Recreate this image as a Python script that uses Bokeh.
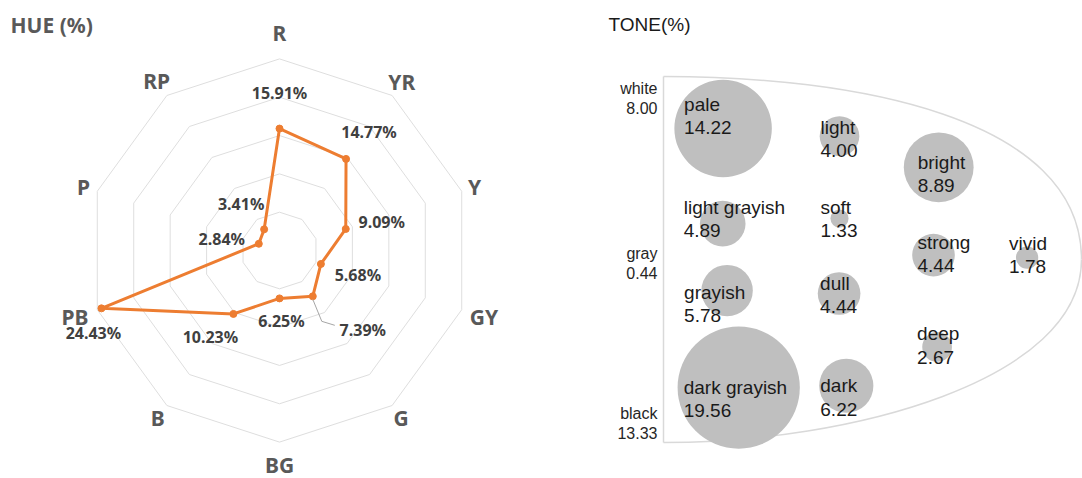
import numpy as np
from bokeh.plotting import figure
from bokeh.layouts import row
from bokeh.models import ColumnDataSource, Range1d
from bokeh.core.properties import value
from bokeh.embed import file_html
from bokeh.resources import INLINE

# ---------------- data: HUE radar ----------------
hue_cats = ["R", "YR", "Y", "GY", "G", "BG", "B", "PB", "P", "RP"]
hue_vals = [15.91, 14.77, 9.09, 5.68, 7.39, 6.25, 10.23, 24.43, 2.84, 3.41]
hue_rings = [5, 10, 15, 20, 25]

# ---------------- data: TONE bubbles ----------------
tone_names = ["pale", "light", "bright", "light grayish", "soft", "strong",
              "vivid", "grayish", "dull", "deep", "dark grayish", "dark"]
tone_vals = [14.22, 4.00, 8.89, 4.89, 1.33, 4.44, 1.78, 5.78, 4.44, 2.67, 19.56, 6.22]
tone_chroma = [1.49, 4.40, 6.88, 1.48, 4.40, 6.75, 9.09, 1.59, 4.39, 6.84, 1.88, 4.57]
tone_lightness = [8.58, 8.37, 7.52, 5.98, 6.12, 5.12, 5.05, 4.15, 4.07, 2.61, 1.50, 1.55]
achro_names = ["white", "gray", "black"]
achro_vals = [8.00, 0.44, 13.33]
achro_lightness = [9.67, 5.16, 0.79]

H = 478
GRAY_TXT = "#595959"
ORANGE = "#ED7D31"

# ================= left: radar =================
W1 = 568
S = 191.6 / 25.0          # px per percent
CX, CY = 279, 250         # centre inside the figure (px)
p1 = figure(width=W1, height=H, output_backend="svg", toolbar_location=None,
            x_range=Range1d(-CX / S, (W1 - CX) / S),
            y_range=Range1d(-(H - CY) / S, CY / S),
            x_axis_type=None, y_axis_type=None, min_border=0,
            outline_line_color=None)
p1.grid.visible = False

theta = np.deg2rad(np.arange(len(hue_cats)) * 36.0)
sn, cs = np.sin(theta), np.cos(theta)
sn_c, cs_c = np.append(sn, sn[0]), np.append(cs, cs[0])

for r in hue_rings:
    p1.line(r * sn_c, r * cs_c, line_color="#dedede", line_width=1)

vals = np.array(hue_vals)
px_, py_ = vals * sn, vals * cs
p1.line(np.append(px_, px_[0]), np.append(py_, py_[0]), line_color=ORANGE,
        line_width=3, line_join="round")
p1.scatter(px_, py_, size=7, marker="circle", fill_color=ORANGE, line_color=ORANGE)

# leader line for G label
gi = hue_cats.index("G")
lx = px_[gi] + np.array([0, 9, 22]) / S
ly = py_[gi] - np.array([3, 25, 29]) / S
p1.line(lx, ly, line_color="#a6a6a6", line_width=1)

# value labels (pixel nudges from points)
nudge = {"R": (0, -36), "YR": (23, -27), "Y": (36, -7), "GY": (37, 11),
         "G": (50, 34), "BG": (2, 23), "B": (-23, 23), "PB": (-8, 25),
         "P": (-37, -5), "RP": (-23, -25)}
vx = [px_[i] + nudge[c][0] / S for i, c in enumerate(hue_cats)]
vy = [py_[i] - nudge[c][1] / S for i, c in enumerate(hue_cats)]
p1.text(x=vx, y=vy, text=[f"{v:.2f}%" for v in hue_vals],
        text_font=value("Noto Sans"), text_font_style="bold",
        text_font_size="16px", text_color="#404040",
        text_align="center", text_baseline="middle")

# category labels (label distance from centre, px)
lab_dist = {"R": 218, "YR": 208, "Y": 205, "GY": 215, "G": 207,
            "BG": 214, "B": 207, "PB": 215, "P": 206, "RP": 209}
lab_r = np.array([lab_dist[c] for c in hue_cats]) / S
p1.text(x=lab_r * sn, y=lab_r * cs, text=hue_cats,
        text_font=value("Noto Sans"), text_font_style="bold",
        text_font_size="21px", text_color=GRAY_TXT,
        text_align="center", text_baseline="middle")

p1.text(x=[(10 - CX) / S], y=[(CY - 24) / S], text=["HUE (%)"],
        text_font=value("Noto Sans"), text_font_style="bold",
        text_font_size="21px", text_color=GRAY_TXT,
        text_align="left", text_baseline="middle")

# ================= right: tone bubbles =================
W2 = 514
KX, KY = 40.0, 36.6       # px per unit
X0, Y0 = 663 - W1, 442    # chroma 0 / lightness 0 in figure px
p2 = figure(width=W2, height=H, output_backend="svg", toolbar_location=None,
            x_range=Range1d(-X0 / KX, (W2 - X0) / KX),
            y_range=Range1d(-(H - Y0) / KY, Y0 / KY),
            x_axis_type=None, y_axis_type=None, min_border=0,
            outline_line_color=None)
p2.grid.visible = False

OUT = "#d9d9d9"
p2.line([0, 0], [0, 10], line_color=OUT, line_width=1.5)
p2.bezier(x0=[0, 0], y0=[10, 0], x1=[10.45, 10.45], y1=[5.0, 5.0],
          cx0=[4.675, 4.675], cy0=[10, 0], cx1=[10.45, 10.45], cy1=[8.93, 1.69],
          line_color=OUT, line_width=1.5)

tv = np.array(tone_vals)
src = ColumnDataSource(dict(x=tone_chroma, y=tone_lightness,
                            size=2 * 7.4 * tv ** 0.71))
p2.scatter("x", "y", size="size", source=src, marker="circle",
           fill_color="#bfbfbf", line_color=None)

tnudge = {"pale": (-39, -24), "light": (-19, -9), "bright": (-21, -5),
          "light grayish": (-39, -16), "soft": (-19, -11), "strong": (-16, -13),
          "vivid": (-18, -14), "grayish": (-43, 2), "dull": (-19, -10),
          "deep": (-20, -13), "dark grayish": (-55, 0), "dark": (-26, 0)}
LINE = 23.3
nx = [tone_chroma[i] + tnudge[n][0] / KX for i, n in enumerate(tone_names)]
ny = [tone_lightness[i] - tnudge[n][1] / KY for i, n in enumerate(tone_names)]
common = dict(text_font=value("Liberation Sans"), text_font_size="19px",
              text_color="#1a1a1a", text_align="left", text_baseline="middle")
p2.text(x=nx, y=ny, text=tone_names, **common)
p2.text(x=nx, y=[y - LINE / KY for y in ny], text=[f"{v:.2f}" for v in tone_vals], **common)

acommon = dict(text_font=value("Liberation Sans"), text_font_size="16px",
               text_color="#262626", text_align="right", text_baseline="middle")
ax_ = [-6 / KX] * len(achro_names)
p2.text(x=ax_, y=achro_lightness, text=achro_names, **acommon)
p2.text(x=ax_, y=[y - 19.5 / KY for y in achro_lightness],
        text=[f"{v:.2f}" for v in achro_vals], **acommon)

p2.text(x=[(608 - W1 - X0) / KX], y=[(Y0 - 24) / KY], text=["TONE(%)"],
        text_font=value("Liberation Sans"), text_font_size="19px",
        text_color="#1a1a1a", text_align="left", text_baseline="middle")

layout = row(p1, p2)
open("out.html", "w").write(file_html(layout, INLINE))
